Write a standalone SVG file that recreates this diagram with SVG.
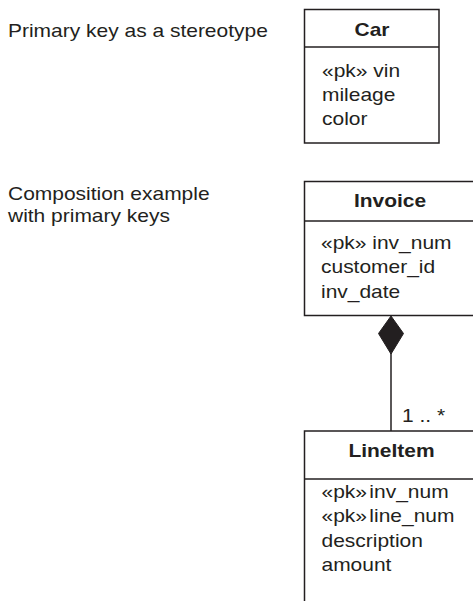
<svg xmlns="http://www.w3.org/2000/svg" width="473" height="601" viewBox="0 0 473 601">
<style>
text{font-family:"Liberation Sans",Arial,Helvetica,sans-serif;font-size:18.4px;fill:#231f20}
.t{font-weight:bold;text-anchor:middle}
.box{fill:#fff;stroke:#231f20;stroke-width:1.5}
.ln{fill:none;stroke:#231f20;stroke-width:1.5}
</style>
<rect width="473" height="601" fill="#fff"/>
<g id="captions">
<text transform="translate(8,36.5) scale(1.14,1)">Primary key as a stereotype</text>
<text transform="translate(8,200) scale(1.14,1)">Composition example</text>
<text transform="translate(8,222) scale(1.14,1)">with primary keys</text>
</g>
<g id="car">
<rect class="box" x="304.5" y="9.5" width="134.5" height="133.5"/>
<line class="ln" x1="304.5" y1="47" x2="439" y2="47"/>
<text class="t" transform="translate(372,35.5) scale(1.14,1)">Car</text>
<text transform="translate(322,76.5) scale(1.14,1)">«pk» vin</text>
<text transform="translate(322,100.5) scale(1.14,1)">mileage</text>
<text transform="translate(322,124.5) scale(1.14,1)">color</text>
</g>
<g id="invoice">
<rect class="box" x="304.5" y="181.5" width="180" height="134"/>
<line class="ln" x1="304.5" y1="221" x2="480" y2="221"/>
<text class="t" transform="translate(390,206.5) scale(1.14,1)">Invoice</text>
<text transform="translate(321,249) scale(1.14,1)">«pk» inv_num</text>
<text transform="translate(321,273) scale(1.14,1)">customer_id</text>
<text transform="translate(321,297.5) scale(1.14,1)">inv_date</text>
</g>
<g id="lineitem">
<path class="ln" d="M480 431 H304.5 V605"/>
<line class="ln" x1="304.5" y1="479" x2="480" y2="479"/>
<text class="t" transform="translate(391.5,456.5) scale(1.14,1)">LineItem</text>
<text word-spacing="-3" transform="translate(321.5,497.5) scale(1.14,1)">«pk» inv_num</text>
<text word-spacing="-3" transform="translate(321.5,522) scale(1.14,1)">«pk» line_num</text>
<text transform="translate(321.5,546.5) scale(1.14,1)">description</text>
<text transform="translate(321.5,571) scale(1.14,1)">amount</text>
</g>
<g id="connectors">
<line class="ln" x1="391" y1="353" x2="391" y2="431"/>
<polygon points="391,316 403.5,333.5 391,354 378.5,333.5" fill="#231f20" stroke="#231f20" stroke-width="1"/>
<text transform="translate(402,422) scale(1.14,1)">1 .. *</text>
</g>
</svg>
